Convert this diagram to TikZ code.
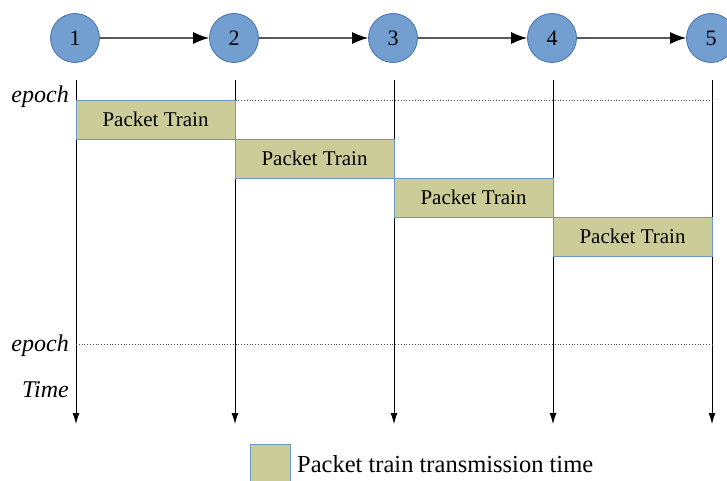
\documentclass[tikz,border=0pt]{standalone}
\usepackage{fontspec}
\setmainfont{Liberation Serif}
\usetikzlibrary{arrows.meta,positioning}

\definecolor{hopfill}{HTML}{729FCF}
\definecolor{hopedge}{HTML}{4572B0}
\definecolor{trainfill}{HTML}{CCCC99}
\definecolor{trainedge}{HTML}{6A98CC}

\tikzset{
  hop/.style={circle, fill=hopfill, draw=hopedge, line width=0.8pt, minimum size=49pt, inner sep=0pt, font=\rmfamily\fontsize{22}{26}\selectfont},
  train/.style={rectangle, fill=trainfill, draw=trainedge, line width=0.9pt, minimum width=159pt, minimum height=39pt, inner sep=0pt, outer sep=0pt, font=\rmfamily\fontsize{21}{24}\selectfont},
  link/.style={draw=black!65, line width=1.3pt, -{Latex[length=16pt,width=12pt,black]}},
  timeline/.style={line width=0.8pt, -{Latex[length=11pt,width=7pt]}},
  epochline/.style={dotted, line width=0.8pt, black!70},
  lbl/.style={font=\rmfamily\fontsize{24}{28}\selectfont\itshape, anchor=base east, inner sep=0pt}
}

\begin{document}
\begin{tikzpicture}[x=1pt,y=-1pt]
\useasboundingbox (0,0) rectangle (727,481);

% hops and time lines
\foreach \i/\x in {1/75,2/234,3/393,4/552,5/711}{
    \coordinate (t\i) at (\x+1,80);
    \coordinate (b\i) at (\x+1,424);
    \draw[timeline] (t\i) -- (b\i);
    \node[hop] (n\i) at (\x,38) {\i};
}

\foreach \i/\j in {1/2,2/3,3/4,4/5}
    \draw[link] (n\i) -- (n\j);

% epochs
\coordinate (e1a) at (76,100);
\coordinate (e1b) at (712,100);
\coordinate (e2a) at (76,344);
\coordinate (e2b) at (712,344);
\draw[epochline] (e1a) -- (e1b);
\draw[epochline] (e2a) -- (e2b);

\node[lbl] (ep1) at (69,103) {epoch};
\node[lbl] (ep2) at (69,351) {epoch};
\node[lbl] (time) at (69,397) {Time};

% packet trains
\node[train, anchor=north west] (pt1) at (e1a) {Packet Train};
\node[train, anchor=north west] (pt2) at (pt1.south east) {Packet Train};
\node[train, anchor=north west] (pt3) at (pt2.south east) {Packet Train};
\node[train, anchor=north west] (pt4) at (pt3.south east) {Packet Train};

% legend
\node[train, minimum width=40pt, minimum height=40pt, anchor=north west] (leg) at (250,444) {};
\node[anchor=base west, inner sep=0pt, font=\rmfamily\fontsize{24.5}{28}\selectfont] (legtxt) at (297,472) {Packet train transmission time};

\end{tikzpicture}
\end{document}
